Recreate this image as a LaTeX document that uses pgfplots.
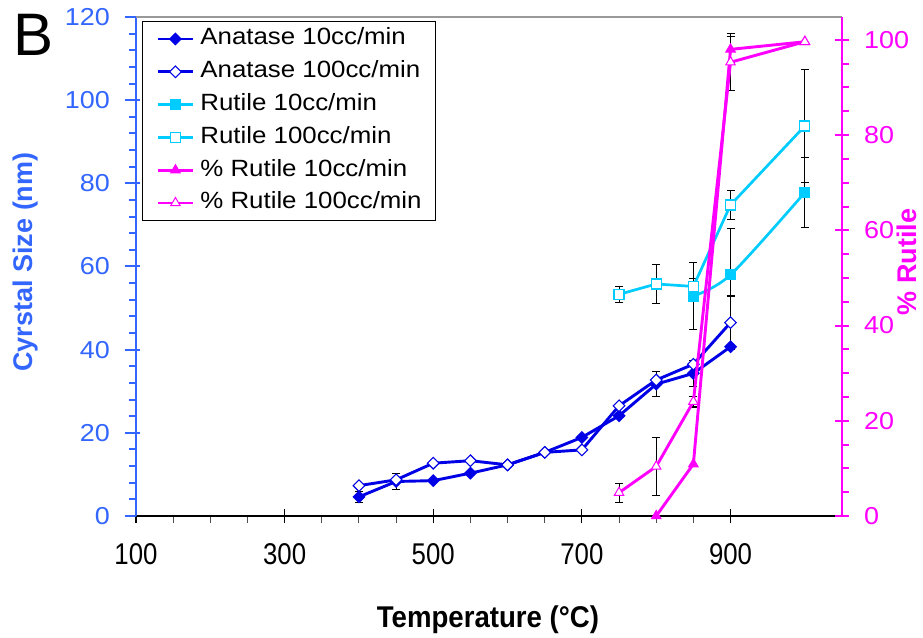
\documentclass[border=0pt]{standalone}
\usepackage{fontspec}
\setmainfont{Liberation Sans}
\usepackage{pgfplots}
\pgfplotsset{compat=1.18}
\usepackage{graphicx}
\definecolor{leftblue}{RGB}{51,102,255}
\definecolor{anablue}{RGB}{0,0,230}
\definecolor{rutcyan}{RGB}{0,204,255}
\definecolor{pctmag}{RGB}{255,0,255}
\newcommand\wide[1]{\scalebox{1.1}[1]{#1}}
\begin{document}
\begin{tikzpicture}
\useasboundingbox (0,0) rectangle (923pt,637pt);
\pgfplotsset{
  common/.style={
    at={(136pt,121pt)}, anchor=south west, scale only axis,
    width=706pt, height=499pt, xmin=100, xmax=1050, clip=false,
    /pgf/number format/assume math mode=true,
  },
  ebar/.style={draw=none, mark=none, forget plot,
    error bars/.cd, y dir=both, y explicit, error mark=-,
    error bar style={draw=black, line width=1.1pt, solid},
    error mark options={draw=black, rotate=90, mark size=4pt, line width=1.1pt}},
  ana10/.style={anablue, line width=2.9pt, mark=square*, mark size=4.1pt,
    mark options={rotate=45, solid, fill=anablue, draw=anablue, line width=1pt}},
  ana100/.style={anablue, line width=2.9pt, mark=square*, mark size=4.1pt,
    mark options={rotate=45, solid, fill=white, draw=anablue, line width=1.1pt}},
  rut10/.style={rutcyan, line width=2.7pt, mark=square*, mark size=5pt,
    mark options={solid, fill=rutcyan, draw=rutcyan, line width=1.2pt}},
  rut100/.style={rutcyan, line width=2.7pt, mark=square*, mark size=5pt,
    mark options={solid, fill=white, draw=rutcyan, line width=1.2pt}},
  pct10/.style={pctmag, line width=2.9pt, mark=triangle*, mark size=5.5pt,
    mark options={solid, fill=pctmag, draw=pctmag, line width=1pt}},
  pct100/.style={pctmag, line width=2.9pt, mark=triangle*, mark size=5.5pt,
    mark options={solid, fill=white, draw=pctmag, line width=1pt}},
}
\node[anchor=north west, inner sep=0pt, font=\fontsize{60}{60}\selectfont] at (13pt,623pt) {B};
% ---------- left axis ----------
\begin{axis}[common,
  axis x line*=bottom, axis y line*=left,
  ymin=0, ymax=120, ytick={0,20,...,120}, minor y tick num=4,
  xtick={100,300,500,700,900}, minor x tick num=3,
  tick align=center, major tick length=15pt, minor tick length=7pt,
  x axis line style={black, line width=1.2pt, -},
  y axis line style={leftblue, line width=2.5pt, -},
  major x tick style={black, line width=1.2pt},
  minor x tick style={black!70, line width=1.1pt, yshift=-3.5pt},
  major y tick style={leftblue, line width=2pt, xshift=-3.5pt},
  minor y tick style={leftblue, line width=2pt, xshift=-3.5pt},
  xticklabel style={black, font=\fontsize{30}{30}\selectfont, xscale=0.86, inner sep=0pt, anchor=north},
  xticklabel shift=19.5pt,
  yticklabel style={leftblue, font=\fontsize{24.5}{24.5}\selectfont, xscale=1.1, inner sep=0pt, anchor=east},
  yticklabel shift=18.5pt,
  xlabel={\scalebox{0.92}[1]{\bfseries Temperature (°C)}},
  xlabel style={font=\fontsize{30}{30}\selectfont, at={(axis description cs:0.4986,-0.2244)}, anchor=base, inner sep=0pt},
  ylabel={\bfseries Cyrstal Size (nm)},
  ylabel style={leftblue, font=\fontsize{27}{27}\selectfont, at={(axis description cs:-0.157,0.509)}, anchor=center, inner sep=0pt},
]
\addplot[ebar] coordinates {(400,4.6) +- (0,1.4) (450,8.3) +- (0,1.9) (800,31.7) +- (0,3) (850,34.3) +- (0,3.2)};
\addplot[ebar] coordinates {(900,46.5) +- (0,6.4)};
\addplot[ebar] coordinates {(850,52.9) +- (0,8.1) (900,58.0) +- (0,11.2) (1000,77.8) +- (0,8.5)};
\addplot[ebar] coordinates {(750,53.3) +- (0,1.9) (800,55.8) +- (0,4.7) (850,55.2) +- (0,2) (900,74.8) +- (0,3.4) (1000,93.8) +- (0,13.6)};
\addplot[ana10] coordinates {(400,4.6)(450,8.3)(500,8.5)(550,10.3)(600,12.3)(650,15.3)(700,18.9)(750,24.1)(800,31.7)(850,34.3)(900,40.7)};
\addplot[ana100] coordinates {(400,7.3)(450,8.7)(500,12.7)(550,13.3)(600,12.3)(650,15.3)(700,15.9)(750,26.5)(800,32.7)(850,36.5)(900,46.5)};
\addplot[rut10, smooth, tension=0.5] coordinates {(850,52.9)(900,58.0)(1000,77.8)};
\addplot[rut100] coordinates {(750,53.3)(800,55.8)(850,55.2)(900,74.8)(1000,93.8)};
\end{axis}
% ---------- right axis ----------
\begin{axis}[common,
  axis y line*=right, axis x line*=top,
  xtick=\empty,
  x axis line style={black!40, line width=1.5pt, -},
  y axis line style={pctmag, line width=2.5pt, -},
  ymin=0, ymax=104.8, ytick={0,20,...,100}, minor y tick num=3,
  tick align=center, major tick length=14pt, minor tick length=7pt,
  major y tick style={pctmag, line width=2pt},
  minor y tick style={pctmag, line width=2pt, xshift=3.5pt},
  yticklabel style={pctmag, font=\fontsize{24.5}{24.5}\selectfont, xscale=1.1, inner sep=0pt, anchor=west},
  yticklabel shift=15pt,
  ylabel={\bfseries \% Rutile},
  ylabel style={pctmag, font=\fontsize{27}{27}\selectfont, at={(axis description cs:1.092,0.509)}, anchor=center, inner sep=0pt},
  legend style={at={(0.0085,0.992)}, anchor=north west, draw=black, line width=1pt, fill=white,
    font=\fontsize{23.5}{23.5}\selectfont, inner xsep=14pt, inner ysep=6.5pt, row sep=10.8pt, column sep=6pt,
    nodes={inner sep=0pt, text height=17pt, text depth=5pt}},
  legend cell align=left,
  legend image code/.code={\draw[mark repeat=2, mark phase=2, #1] plot coordinates {(0pt,0pt)(17.5pt,0pt)(35pt,0pt)};},
]
\addlegendimage{ana10}
\addlegendentry{\wide{Anatase 10cc/min}}
\addlegendimage{ana100}
\addlegendentry{\wide{Anatase 100cc/min}}
\addlegendimage{rut10}
\addlegendentry{\wide{Rutile 10cc/min}}
\addlegendimage{rut100}
\addlegendentry{\wide{Rutile 100cc/min}}
\addplot[ebar] coordinates {(750,4.9) +- (0,2) (800,10.4) +- (0,6.1) (850,24.0) +- (0,1.1) (900,95.3) +- (0,6)};
\addplot[ebar] coordinates {(900,98.0) +- (0,2.7)};
\addplot[pct10] coordinates {(800,0)(850,10.9)(900,98.0)(1000,99.6)};
\addlegendentry{\wide{\% Rutile 10cc/min}}
\addplot[pct100] coordinates {(750,4.9)(800,10.4)(850,24.0)(900,95.3)(1000,99.6)};
\addlegendentry{\wide{\% Rutile 100cc/min}}
\end{axis}
\end{tikzpicture}
\end{document}
